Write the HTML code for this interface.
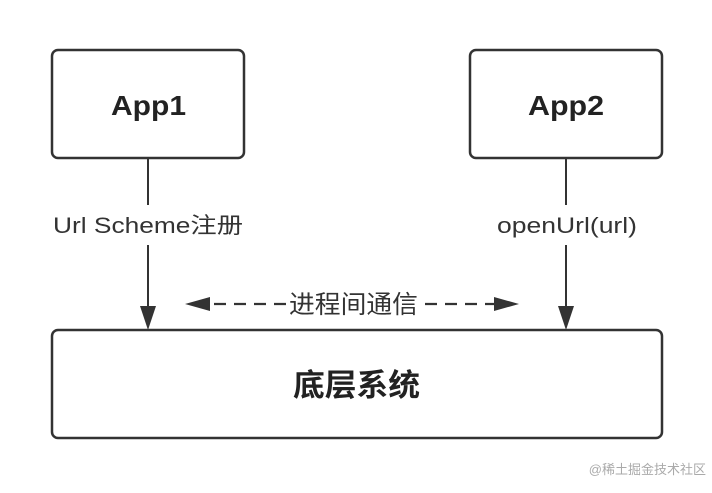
<!DOCTYPE html>
<html><head><meta charset="utf-8"><style>
html,body{margin:0;padding:0;background:#fff;}
body{width:712px;height:488px;overflow:hidden;}
</style></head><body>
<svg width="712" height="488" xmlns="http://www.w3.org/2000/svg" font-family="'Liberation Sans','Noto Sans CJK SC',sans-serif">
<rect x="52" y="50" width="192" height="108" rx="6" fill="#fff" stroke="#333" stroke-width="2.5"/>
<rect x="470" y="50" width="192" height="108" rx="6" fill="#fff" stroke="#333" stroke-width="2.5"/>
<rect x="52" y="330" width="610" height="108" rx="6" fill="#fff" stroke="#333" stroke-width="2.5"/>
<text x="111" y="115" font-size="28" font-weight="bold" fill="#222" textLength="75" lengthAdjust="spacingAndGlyphs">App1</text>
<text x="528" y="115" font-size="28" font-weight="bold" fill="#222" textLength="76" lengthAdjust="spacingAndGlyphs">App2</text>
<text x="293" y="396" font-size="31" font-weight="bold" fill="#222" textLength="127" lengthAdjust="spacingAndGlyphs">底层系统</text>
<line x1="148" y1="158" x2="148" y2="205" stroke="#333" stroke-width="2"/>
<line x1="148" y1="245" x2="148" y2="310" stroke="#333" stroke-width="2"/>
<polygon points="140,306 156,306 148,330" fill="#333"/>
<line x1="566" y1="158" x2="566" y2="205" stroke="#333" stroke-width="2"/>
<line x1="566" y1="245" x2="566" y2="310" stroke="#333" stroke-width="2"/>
<polygon points="558,306 574,306 566,330" fill="#333"/>
<text x="53" y="233" font-size="22" fill="#333" textLength="190" lengthAdjust="spacingAndGlyphs">Url Scheme注册</text>
<text x="497" y="233" font-size="22" fill="#333" textLength="140" lengthAdjust="spacingAndGlyphs">openUrl(url)</text>
<polygon points="185,304 210,297 210,311" fill="#333"/>
<line x1="214" y1="304" x2="287" y2="304" stroke="#333" stroke-width="2.2" stroke-dasharray="12,8"/>
<line x1="425" y1="304" x2="496" y2="304" stroke="#333" stroke-width="2.2" stroke-dasharray="12,8"/>
<polygon points="519,304 494,297 494,311" fill="#333"/>
<text x="289" y="313" font-size="25" fill="#333" textLength="129" lengthAdjust="spacingAndGlyphs">进程间通信</text>
<text x="706" y="474" text-anchor="end" font-size="13" fill="#aaa">@稀土掘金技术社区</text>
</svg>
</body></html>
